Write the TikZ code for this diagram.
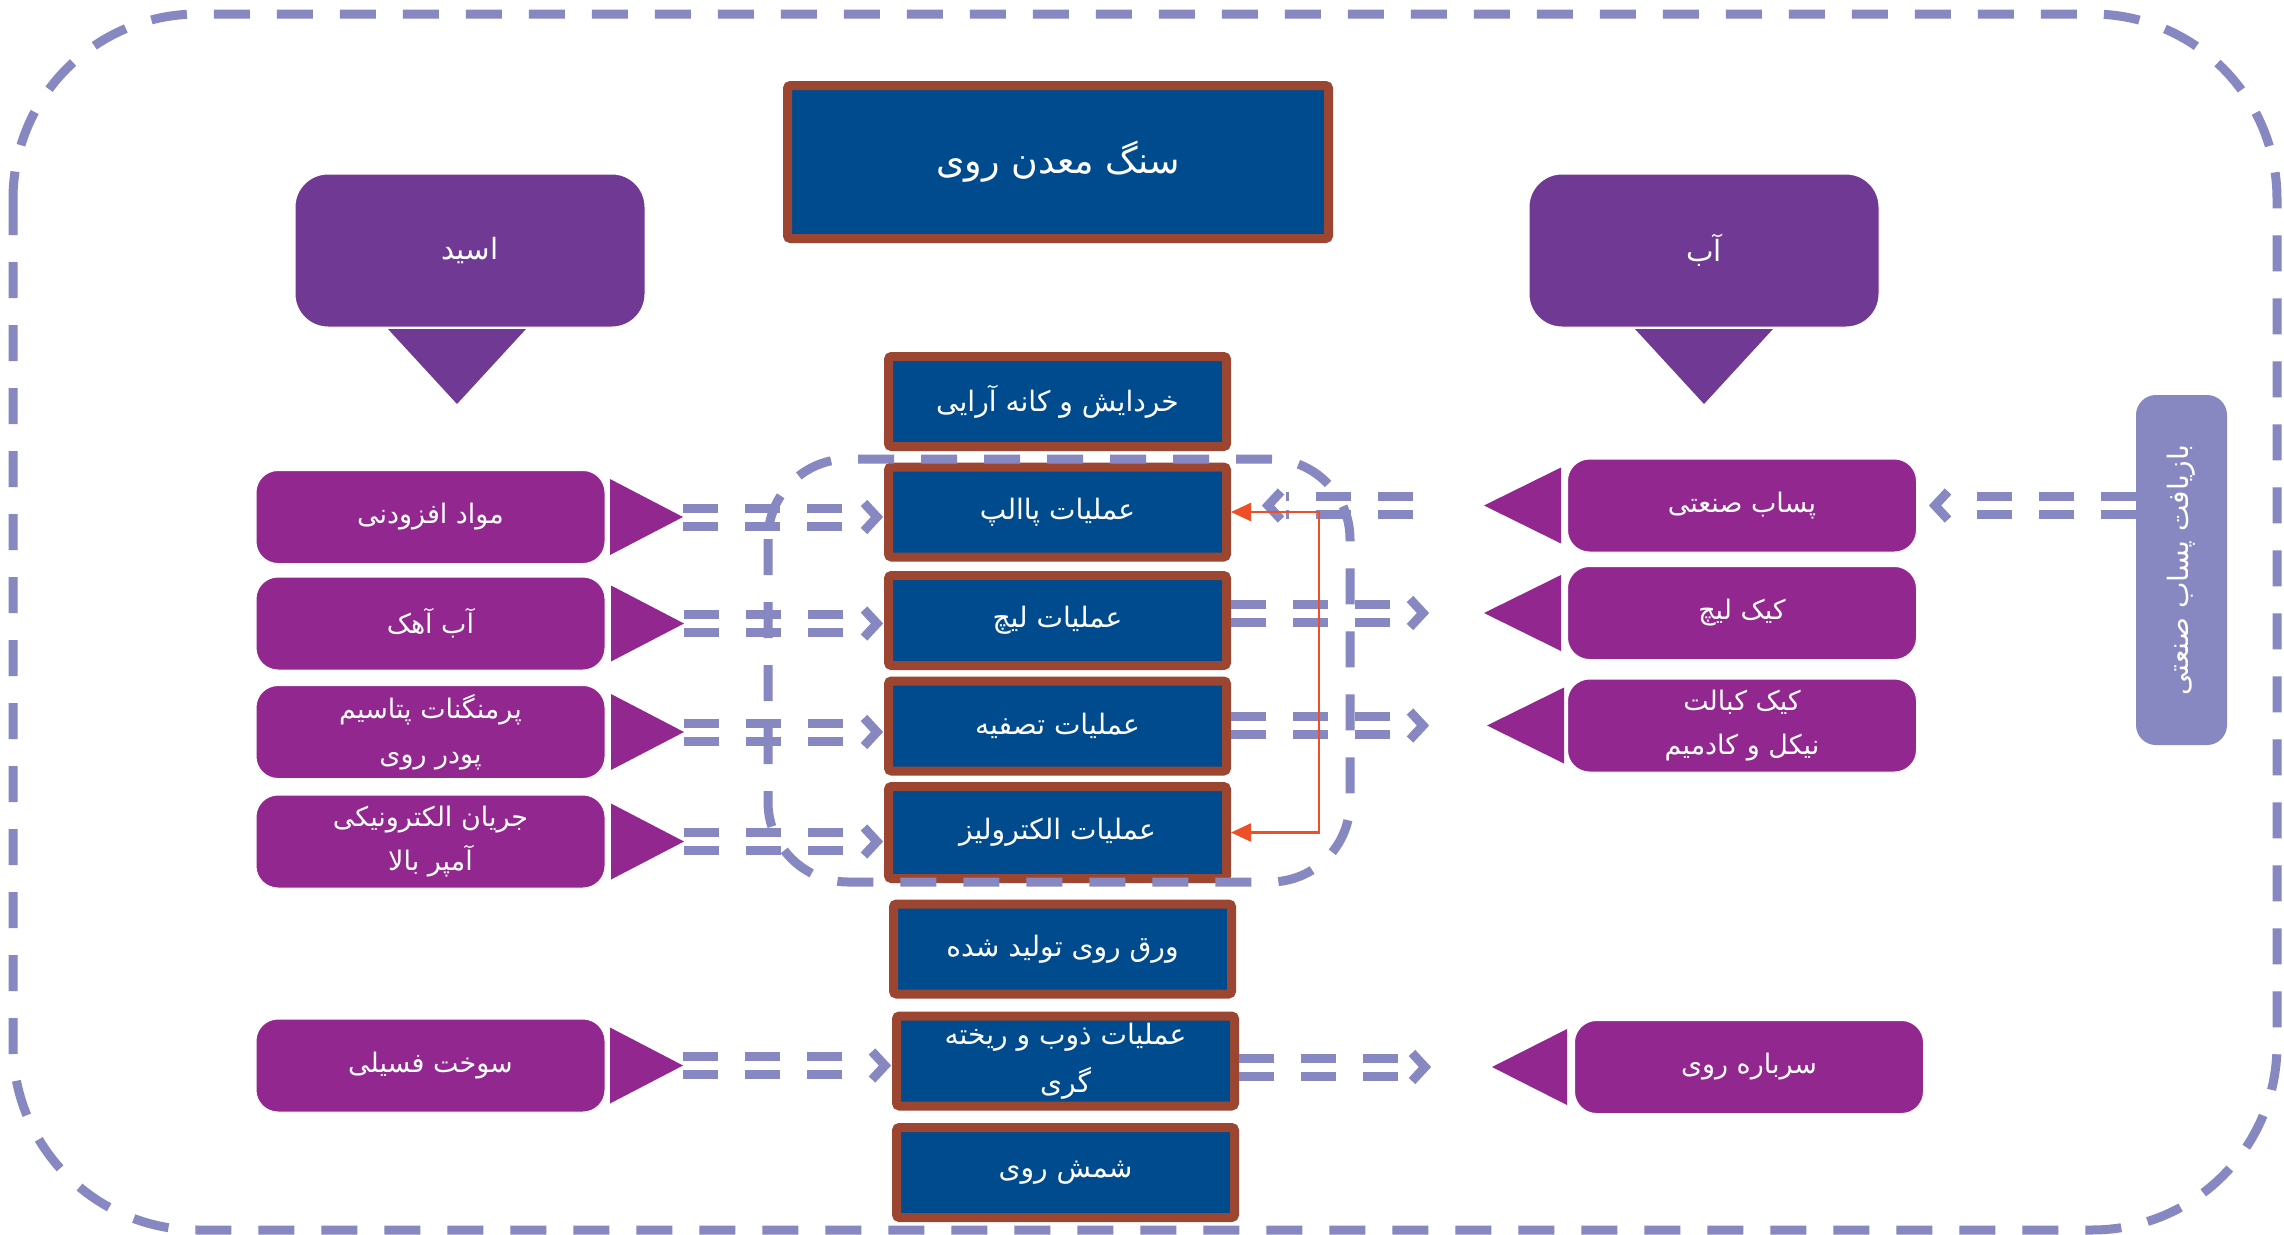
\documentclass[tikz,border=0pt]{standalone}
\usepackage{fontspec}
\usepackage{graphicx}
\usetikzlibrary{calc,arrows.meta}
\newfontfamily\fa[Script=Arabic]{DejaVu Sans}
\TeXXeTstate=1
\newcommand{\rl}[1]{\beginR #1\endR}
\newdimen\px \px=0.3mm
\definecolor{pblue}{HTML}{004B8D}
\definecolor{pbrown}{HTML}{9C4632}
\definecolor{vio}{HTML}{703A94}
\definecolor{mag}{HTML}{92278F}
\definecolor{lav}{HTML}{8787C1}
\definecolor{redl}{HTML}{EE4F27}
\tikzset{
  bigdash/.style={draw=lav, line width=9\px, dash pattern=on 36\px off 27\px, rounded corners=185\px},
  innerdash/.style={draw=lav, line width=9\px, dash pattern=on 36\px off 27\px, rounded corners=80\px},
  dashrow/.style={draw=lav, line width=9\px, dash pattern=on 35\px off 27\px},
  chev/.style={draw=lav, line width=9\px, line join=miter},
  procbox/.style={draw=pbrown, fill=pblue, line width=9\px, rounded corners=3\px,
    minimum width=338\px, minimum height=90\px, inner sep=0pt, text=white, align=center,
    font=\fa\fontsize{24}{40}\selectfont},
  titlebox/.style={procbox, minimum width=541\px, minimum height=153\px, font=\fa\fontsize{31}{36}\selectfont},
  pbox/.style={fill=mag, draw=white, line width=1\px, rounded corners=22\px, minimum width=349\px, minimum height=93\px,
    inner sep=0pt, text=white, align=center, font=\fa\fontsize{23}{38}\selectfont},
  bigbox/.style={fill=vio, draw=white, line width=1\px, rounded corners=33\px, minimum width=350\px, minimum height=153\px,
    inner sep=0pt, text=white, font=\fa\fontsize{25}{30}\selectfont},
  recbox/.style={fill=lav, rounded corners=20\px, minimum width=91\px, minimum height=350\px,
    inner sep=0pt, text=white, font=\fa\fontsize{24}{28}\selectfont},
  redline/.style={draw=redl, line width=0.75mm, {Triangle[length=6mm,width=5.4mm]}-{Triangle[length=6mm,width=5.4mm]}}
}
\newcommand\connR[2]{%
  \draw[dashrow] ($(#1)+(0,-9)$) -- ($(#2)+(-25,-9)$);
  \draw[dashrow] ($(#1)+(0,9)$) -- ($(#2)+(-25,9)$);
  \draw[chev] ($(#2)+(-20,-14)$) -- ($(#2)+(-7,0)$) -- ($(#2)+(-20,14)$);}
\newcommand\connL[2]{%
  \draw[dashrow] ($(#1)+(0,-9)$) -- ($(#2)+(25,-9)$);
  \draw[dashrow] ($(#1)+(0,9)$) -- ($(#2)+(25,9)$);
  \draw[chev] ($(#2)+(20,-14)$) -- ($(#2)+(7,0)$) -- ($(#2)+(20,14)$);}
\begin{document}
\begin{tikzpicture}[x=0.3mm,y=-0.3mm]
\useasboundingbox (0,0) rectangle (2284,1235);
\fill[white] (0,0) rectangle (2284,1235);
% outer frame
\draw[bigdash] (13,14) rectangle (2277,1230);

% top ore box
\node[titlebox] (ore) at (1058,162) {\rl{سنگ معدن روی}};

% acid / water
\node[bigbox] (acid) at (470,250.5) {\rl{اسید}};
\fill[vio] (388,329) -- (526,329) -- (457,404) -- cycle;
\node[bigbox] (water) at (1704,250.5) {\rl{آب}};
\fill[vio] (1635,329) -- (1773,329) -- (1704,404) -- cycle;

% central process column
\node[procbox] (b1) at (1057.5,401.5) {\rl{خردایش و کانه آرایی}};
\node[procbox] (b2) at (1057.5,512) {\rl{عملیات پاالپ}};
\node[procbox] (b3) at (1057.5,620.5) {\rl{عملیات لیچ}};
\node[procbox] (b4) at (1057.5,726) {\rl{عملیات تصفیه}};
\node[procbox, minimum height=92\px] (b5) at (1057.5,832.5) {\rl{عملیات الکترولیز}};
\node[procbox] (b6) at (1062.5,949) {\rl{ورق روی تولید شده}};
\node[procbox, font=\fa\fontsize{24}{41}\selectfont] (b7) at (1065.5,1061) {\rl{عملیات ذوب و ریخته}\\\rl{گری}};
\node[procbox] (b8) at (1065.5,1172.5) {\rl{شمش روی}};

% left inputs
\node[pbox] (L1) at (430.5,517) {\rl{مواد افزودنی}};
\node[pbox] (L2) at (430.5,623.5) {\rl{آب آهک}};
\node[pbox] (L3) at (430.5,732) {\rl{پرمنگنات پتاسیم}\\\rl{پودر روی}};
\node[pbox] (L4) at (430.5,841.5) {\rl{جریان الکترونیکی}\\\rl{آمپر بالا}};
\node[pbox] (L5) at (430.5,1065.5) {\rl{سوخت فسیلی}};
\coordinate (la1) at (683,517);
\coordinate (la2) at (684,623.5);
\coordinate (la3) at (684,732);
\coordinate (la4) at (684,841.5);
\coordinate (la5) at (683,1065.5);
\foreach \a in {la1,la2,la3,la4,la5}
  \fill[mag] (\a) -- ++(-73,-38) -- ++(0,76) -- cycle;

% right outputs
\node[pbox] (R1) at (1742,505.5) {\rl{پساب صنعتی}};
\node[pbox] (R2) at (1742,613) {\rl{کیک لیچ}};
\node[pbox] (R3) at (1742,725.5) {\rl{کیک کبالت}\\\rl{نیکل و کادمیم}};
\node[pbox] (R4) at (1749,1067) {\rl{سرباره روی}};
\coordinate (ra1) at (1484,505.5);
\coordinate (ra2) at (1484,613);
\coordinate (ra3) at (1487,725.5);
\coordinate (ra4) at (1492,1067);
\foreach \a in {ra1,ra2,ra3}
  \fill[mag] (\a) -- ++(77,-38) -- ++(0,76) -- cycle;
\fill[mag] (ra4) -- ++(75,-38) -- ++(0,76) -- cycle;

% recycling box
\node[recbox] (rec) at (2181.5,570) {\rotatebox{90}{\rl{بازیافت پساب صنعتی}}};

% left connectors
\path (la1 -| b2.west) coordinate (e1);
\path (la2 -| b3.west) coordinate (e2);
\path (la3 -| b4.west) coordinate (e3);
\path (la4 -| b5.west) coordinate (e4);
\path (la5 -| b7.west) coordinate (e5);
\connR{la1}{e1}
\connR{la2}{e2}
\connR{la3}{e3}
\connR{la4}{e4}
\connR{la5}{e5}

% right connectors
\path (ra2 -| b3.east) coordinate (f2);
\path (ra3 -| b4.east) coordinate (f3);
\path (ra4 -| b7.east) coordinate (f4);
\coordinate (g2) at ($(ra2)+(-54,0)$);
\coordinate (g3) at ($(ra3)+(-57,0)$);
\coordinate (g4) at ($(ra4)+(-60,0)$);
\connR{f2}{g2}
\connR{f3}{g3}
\connR{f4}{g4}

% recycling -> industrial wastewater
\path (R1.east -| rec.west) coordinate (h1);
\coordinate (h2) at ($(R1.east)+(11,0)$);
\connL{h1}{h2}

% short return arrow toward pulp
\coordinate (k1) at ($(ra1)+(-71,0)$);
\path (ra1 -| b2.east) coordinate (k0);
\coordinate (k2) at ($(k0)+(30,0)$);
\connL{k1}{k2}

% inner dashed group
\draw[innerdash] (768,459) rectangle (1350,882);

% red feedback line
\draw[redline] (b2.east) -- ++(88,0) |- (b5.east);
\end{tikzpicture}
\end{document}
